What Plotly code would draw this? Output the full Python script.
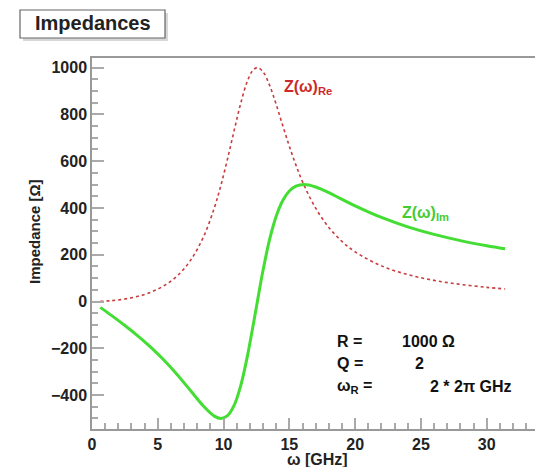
import plotly.graph_objects as go

# Frequencies (GHz) and impedance values
omega = [0.63, 1.5, 2.5, 3.5, 4.5, 5.5, 6.5, 7.5, 8.5, 9.3, 9.8, 10.3, 10.8, 11.3,
         11.8, 12.2, 12.57, 13.0, 13.5, 14.0, 14.5, 15.0, 15.5, 16.1, 17.0, 18.0,
         19.0, 20.0, 22.0, 24.0, 26.0, 28.0, 30.0, 31.4]
z_re = [0.6, 3.7, 10.6, 22.3, 40.5, 68.3, 110.9, 176.9, 279.9, 401.0, 497.6, 609.4,
        730.0, 846.7, 940.4, 986.2, 1000.0, 981.9, 923.9, 842.1, 751.8, 663.6, 583.1,
        499.3, 399.0, 316.8, 256.8, 212.2, 152.3, 115.1, 90.4, 73.2, 60.6, 53.7]
z_im = [-25.1, -60.3, -102.5, -147.6, -197.1, -252.2, -314.0, -381.6, -448.9, -490.1,
        -500.0, -487.9, -443.9, -360.3, -236.8, -116.6, 0.0, 133.4, 265.2, 364.7, 432.0,
        472.5, 493.0, 500.0, 489.7, 465.2, 436.9, 408.9, 359.3, 319.1, 286.8, 260.4,
        238.6, 225.5]

x_range = [0, 33.67]
y_range = [-545, 1041]

W, H = 535, 467
L, R, T, B = 92, 0, 58, 38
pw, ph = W - L - R, H - T - B


def px(x):
    return (x - L) / pw


def py(y):
    return (H - B - y) / ph


FAM = "Liberation Sans, Arial, sans-serif"

fig = go.Figure()
fig.add_trace(go.Scatter(x=omega, y=z_re, mode="lines", line_shape="spline",
                         line=dict(color="#c83c3c", width=1.6, dash="dot"),
                         showlegend=False, hoverinfo="skip"))
fig.add_trace(go.Scatter(x=omega, y=z_im, mode="lines", line_shape="spline",
                         line=dict(color="#44dd33", width=3),
                         showlegend=False, hoverinfo="skip"))

axis_font = dict(family=FAM, size=16, color="#222", weight="bold")

fig.update_xaxes(range=x_range, showgrid=False, zeroline=False, showline=True,
                 linecolor="#999", linewidth=1.5, mirror=True,
                 ticks="inside", ticklen=11, tickwidth=1.5, tickcolor="#aaa",
                 tick0=0, dtick=5, tickfont=axis_font,
                 minor=dict(dtick=1, ticks="inside", ticklen=6, tickwidth=1.5, tickcolor="#aaa"))
fig.update_yaxes(range=y_range, showgrid=False, zeroline=False, showline=True,
                 linecolor="#999", linewidth=1.5, mirror=False,
                 ticks="inside", ticklen=12, tickwidth=1.5, tickcolor="#aaa",
                 tick0=0, dtick=200, tickfont=axis_font,
                 minor=dict(dtick=50, ticks="inside", ticklen=6, tickwidth=1.5, tickcolor="#aaa"))

txt = dict(family=FAM, size=16, color="#111", weight="bold")

annotations = [
    # title box text
    dict(text="Impedances", xref="paper", yref="paper", x=px(92.5), y=py(23),
         xanchor="center", yanchor="middle", showarrow=False,
         font=dict(family=FAM, size=20, color="#222", weight="bold")),
    # axis titles
    dict(text="Impedance [Ω]", xref="paper", yref="paper", x=px(35), y=py(232),
         xanchor="center", yanchor="middle", textangle=-90, showarrow=False,
         font=dict(family=FAM, size=15, color="#222", weight="bold")),
    dict(text="ω [GHz]", xref="paper", yref="paper", x=px(317), y=py(459),
         xanchor="center", yanchor="middle", showarrow=False,
         font=dict(family=FAM, size=16, color="#222", weight="bold")),
    # curve labels
    dict(text="Z(ω)<sub>Re</sub>", x=14.44, y=915, xanchor="left", yanchor="middle",
         showarrow=False, font=dict(family=FAM, size=16, color="#cc2a2a", weight="bold")),
    dict(text="Z(ω)<sub>Im</sub>", x=23.4, y=375, xanchor="left", yanchor="middle",
         showarrow=False, font=dict(family=FAM, size=16, color="#44cc33", weight="bold")),
    # parameters
    dict(text="R =", x=18.47, y=-173, xanchor="left", yanchor="middle", showarrow=False, font=txt),
    dict(text="Q =", x=18.47, y=-263, xanchor="left", yanchor="middle", showarrow=False, font=txt),
    dict(text="ω<sub>R</sub> =", x=18.47, y=-365, xanchor="left", yanchor="middle", showarrow=False, font=txt),
    dict(text="1000 Ω", x=23.4, y=-173, xanchor="left", yanchor="middle", showarrow=False, font=txt),
    dict(text="2", x=24.9, y=-263, xanchor="center", yanchor="middle", showarrow=False, font=txt),
    dict(text="2 * 2π GHz", x=25.5, y=-365, xanchor="left", yanchor="middle", showarrow=False, font=txt),
]

shapes = [
    # shadow of title box
    dict(type="rect", xref="paper", yref="paper", x0=px(23), x1=px(168), y0=py(41), y1=py(13),
         fillcolor="#d8d8d8", line=dict(width=0), layer="above"),
    # title box
    dict(type="rect", xref="paper", yref="paper", x0=px(20), x1=px(165), y0=py(38), y1=py(10),
         fillcolor="white", line=dict(color="#666", width=1.2), layer="above"),
]

fig.update_layout(width=W, height=H, margin=dict(l=L, r=R, t=T, b=B),
                  paper_bgcolor="white", plot_bgcolor="white",
                  annotations=annotations, shapes=shapes, showlegend=False)

fig.write_html("out.html")
